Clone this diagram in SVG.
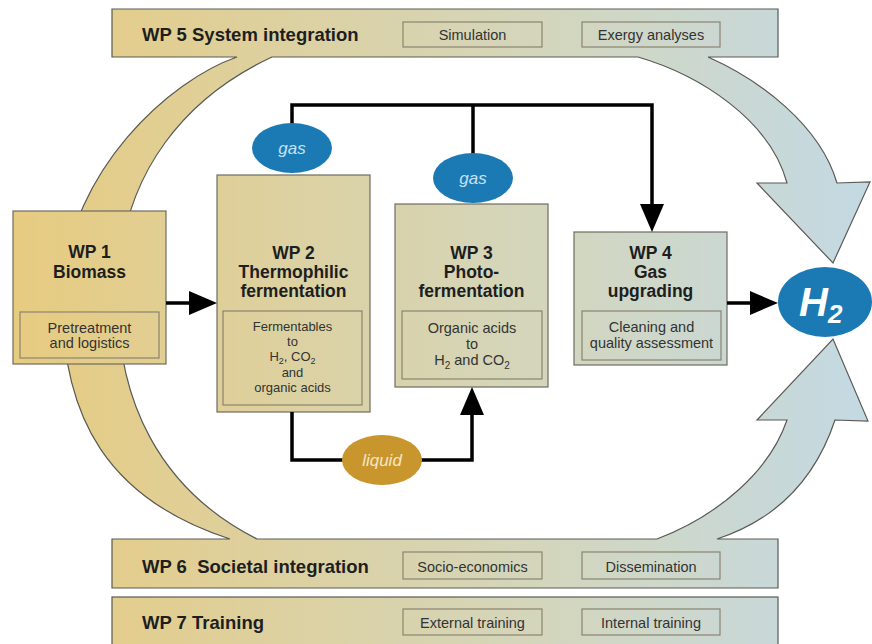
<svg xmlns="http://www.w3.org/2000/svg" width="872" height="644" viewBox="0 0 872 644">
<style>
.sh{stroke:#5a5a55;stroke-width:1.2;fill:url(#g)}
.bx{stroke:#6e6c60;stroke-width:1.2;fill:url(#g)}
.sb{stroke:#8a8470;stroke-width:1.2;fill:none}
.tt{font-family:"Liberation Sans",Arial,sans-serif;font-weight:bold;fill:#1e1e1e}
.bt{font-size:18.5px}
.nt{font-size:17.5px;text-anchor:middle}
.st{font-family:"Liberation Sans",Arial,sans-serif;font-size:14.5px;fill:#333;text-anchor:middle}
.sm{font-size:13px}
.cn{fill:none;stroke:#000;stroke-width:3.5;stroke-linejoin:miter}
.lb{font-family:"Liberation Sans",Arial,sans-serif;font-style:italic;font-size:17px;text-anchor:middle}
</style>
<defs>
<linearGradient id="g" gradientUnits="userSpaceOnUse" x1="0" y1="0" x2="872" y2="0">
<stop offset="0.01" stop-color="#e7cb80"/>
<stop offset="0.34" stop-color="#dcd1a2"/>
<stop offset="0.63" stop-color="#d3d6bd"/>
<stop offset="1" stop-color="#c3d9e4"/>
</linearGradient>
<marker id="ah" viewBox="0 0 28 24" refX="0" refY="12" markerWidth="28" markerHeight="24" markerUnits="userSpaceOnUse" orient="auto">
<path d="M0,0 L28,12 L0,24 Z" fill="#000"/>
</marker>
</defs>

<g id="wp5">
<path class="sh" d="M112,9 L778,9 L778,57 L708,57 C760,80 820,125 837,183 L870,182 L833,263 L757,183 L787,183 C770,120 700,75 638,57 L272,57 C190,95 120,170 118,290 L62,290 C70,170 170,80 237,57 L112,57 Z"/>
<text class="tt bt" x="142" y="41">WP 5 System integration</text>
<rect class="sb" x="403" y="22" width="139" height="25"/>
<text class="st" x="472.5" y="40">Simulation</text>
<rect class="sb" x="582" y="22" width="138" height="25"/>
<text class="st" x="651" y="40">Exergy analyses</text>
</g>

<g id="wp6">
<path class="sh" d="M112,539 L230,539 C110,500 60,420 62,290 L118,290 C115,400 160,490 257,539 L657,539 C720,515 770,470 787,420 L757,420 L833,339 L868,421 L835,420 C815,480 775,520 717,539 L778,539 L778,588 L112,588 Z"/>
<text class="tt bt" x="142" y="573" xml:space="preserve">WP 6  Societal integration</text>
<rect class="sb" x="403" y="552" width="139" height="27"/>
<text class="st" x="472.5" y="572">Socio-economics</text>
<rect class="sb" x="582" y="552" width="138" height="27"/>
<text class="st" x="651" y="572">Dissemination</text>
</g>

<g id="wp7">
<rect class="sh" x="112" y="597" width="666" height="50"/>
<text class="tt bt" x="142" y="629">WP 7 Training</text>
<rect class="sb" x="403" y="609" width="139" height="26"/>
<text class="st" x="472.5" y="628">External training</text>
<rect class="sb" x="582" y="609" width="138" height="26"/>
<text class="st" x="651" y="628">Internal training</text>
</g>

<g id="wp1">
<rect class="bx" x="13" y="211" width="153" height="153"/>
<text class="tt nt" x="89.5" y="258">WP 1</text>
<text class="tt nt" x="89.5" y="278">Biomass</text>
<rect class="sb" x="20" y="312" width="139" height="46"/>
<text class="st" x="89.5" y="333">Pretreatment</text>
<text class="st" x="89.5" y="348">and logistics</text>
</g>

<g id="wp2">
<rect class="bx" x="217" y="175" width="153" height="237"/>
<text class="tt nt" x="293.5" y="259">WP 2</text>
<text class="tt nt" x="293.5" y="278">Thermophilic</text>
<text class="tt nt" x="293.5" y="297">fermentation</text>
<rect class="sb" x="223" y="311" width="139" height="94"/>
<text class="st sm" x="292.5" y="331">Fermentables</text>
<text class="st sm" x="292.5" y="346">to</text>
<text class="st sm" x="292.5" y="361">H<tspan dy="3" font-size="9">2</tspan><tspan dy="-3">, CO</tspan><tspan dy="3" font-size="9">2</tspan></text>
<text class="st sm" x="292.5" y="377">and</text>
<text class="st sm" x="292.5" y="392">organic acids</text>
</g>

<g id="wp3">
<rect class="bx" x="395" y="204" width="153" height="183"/>
<text class="tt nt" x="471.5" y="259">WP 3</text>
<text class="tt nt" x="471.5" y="278">Photo-</text>
<text class="tt nt" x="471.5" y="297">fermentation</text>
<rect class="sb" x="402" y="311" width="140" height="68"/>
<text class="st" x="472" y="333">Organic acids</text>
<text class="st" x="472" y="349">to</text>
<text class="st" x="472" y="365">H<tspan dy="4" font-size="10">2</tspan><tspan dy="-4"> and CO</tspan><tspan dy="4" font-size="10">2</tspan></text>
</g>

<g id="wp4">
<rect class="bx" x="574" y="232" width="153" height="133"/>
<text class="tt nt" x="650.5" y="259">WP 4</text>
<text class="tt nt" x="650.5" y="278">Gas</text>
<text class="tt nt" x="650.5" y="297">upgrading</text>
<rect class="sb" x="582" y="311" width="139" height="49"/>
<text class="st" x="651.5" y="332">Cleaning and</text>
<text class="st" x="651.5" y="348">quality assessment</text>
</g>

<g id="connectors">
<path class="cn" d="M166,303 H189" marker-end="url(#ah)"/>
<path class="cn" d="M292,124 V105 H652 V204" marker-end="url(#ah)"/>
<path class="cn" d="M473,105 V154"/>
<path class="cn" d="M727,303 H750" marker-end="url(#ah)"/>
<path class="cn" d="M292,412 V460 H472 V415" marker-end="url(#ah)"/>
</g>

<g id="gas1">
<ellipse cx="292" cy="148" rx="40" ry="25" fill="#1b7ab4"/>
<text class="lb" x="292" y="154" fill="#c4e2f4">gas</text>
</g>
<g id="gas2">
<ellipse cx="473" cy="178" rx="40" ry="25" fill="#1b7ab4"/>
<text class="lb" x="473" y="184" fill="#c4e2f4">gas</text>
</g>
<g id="liquid">
<ellipse cx="382" cy="460" rx="40" ry="25" fill="#c9952d"/>
<text class="lb" x="382" y="466" fill="#f4e6c4">liquid</text>
</g>
<g id="h2">
<ellipse cx="825" cy="302" rx="47" ry="35" fill="#1b7ab4"/>
<text x="799" y="316" font-family="Liberation Sans,Arial,sans-serif" font-weight="bold" font-style="italic" font-size="40" fill="#fff">H<tspan font-size="26" dy="7">2</tspan></text>
</g>
</svg>
